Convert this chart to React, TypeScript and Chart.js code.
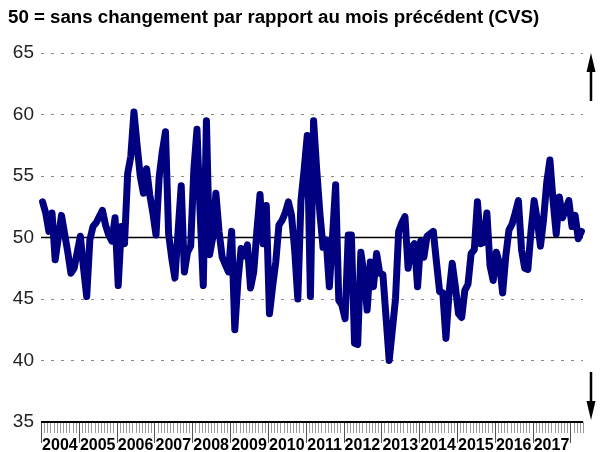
import React, { useEffect, useRef } from "react";
import { Chart, registerables } from "chart.js";

Chart.register(...registerables);

const TITLE = "50 = sans changement par rapport au mois précédent (CVS)";
const FIRST_YEAR = 2004;
const yearLabels = ["2004", "2005", "2006", "2007", "2008", "2009", "2010", "2011", "2012", "2013", "2014", "2015", "2016", "2017"];
const yMin = 35;
const yMax = 65;
const yStep = 5;
const refLevel = 50;

// monthly index values, Jan 2004 -> Apr 2018
const values = [
  52.9, 52.0, 50.5, 52.0, 48.2, 50.0, 51.8, 50.3, 48.8, 47.1, 47.5, 48.8,
  50.1, 47.5, 45.2, 49.8, 50.9, 51.2, 51.7, 52.2, 51.0, 50.2, 49.7, 51.6,
  46.1, 50.9, 49.5, 55.2, 56.6, 60.2, 57.5, 55.0, 53.6, 55.6, 53.5, 52.0,
  50.2, 54.9, 57.0, 58.6, 50.3, 48.3, 46.7, 50.5, 54.2, 47.2, 48.8, 49.3,
  55.5, 58.8, 52.0, 46.1, 59.5, 48.6, 50.0, 53.6, 50.5, 48.4, 47.8, 47.2,
  50.5, 42.5, 46.5, 49.1, 48.5, 49.4, 45.9, 47.2, 50.5, 53.5, 49.5, 52.6,
  43.8, 46.0, 48.0, 51.0, 51.4, 52.0, 52.9, 51.8, 49.0, 45.0, 53.0, 55.5,
  58.3, 45.2, 59.5, 55.5, 52.0, 49.2, 49.8, 46.0, 50.0, 54.3, 44.9, 44.5,
  43.4, 50.2, 50.2, 41.4, 41.3, 48.8, 47.0, 44.1, 48.0, 46.0, 48.7, 47.1,
  47.0, 43.5, 40.0, 42.5, 45.0, 50.5, 51.2, 51.7, 47.5, 49.2, 49.5, 46.0,
  49.7, 48.4, 50.1, 50.3, 50.5, 48.0, 45.6, 45.5, 41.8, 45.5, 47.9, 46.0,
  43.8, 43.5, 45.7, 46.2, 48.7, 49.0, 52.9, 49.5, 49.6, 52.0, 47.7, 46.5,
  48.8, 47.9, 45.5, 48.5, 50.6, 51.1, 52.0, 53.0, 49.0, 47.5, 47.4, 50.5,
  53.0, 51.4, 49.3, 51.5, 54.5, 56.3, 53.0, 50.3, 53.3, 51.6, 52.3, 53.0,
  50.9, 51.8, 49.9, 50.5,
];

const months = values.map(
  (_, i) => `${FIRST_YEAR + Math.floor(i / 12)}-${String((i % 12) + 1).padStart(2, "0")}`
);

const FONT = "Arial, 'Liberation Sans', sans-serif";

const decorPlugin = {
  id: "decor",
  beforeDatasetsDraw(chart: any) {
    const { ctx, chartArea } = chart;
    const y = chart.scales.y.getPixelForValue(refLevel);
    ctx.save();
    ctx.strokeStyle = "#000";
    ctx.lineWidth = 1.5;
    ctx.beginPath();
    ctx.moveTo(chartArea.left, y);
    ctx.lineTo(chartArea.right, y);
    ctx.stroke();
    ctx.restore();
  },
  afterDraw(chart: any) {
    const { ctx, chartArea } = chart;
    const xs = chart.scales.x;
    const n = values.length;
    const step = xs.getPixelForValue(1) - xs.getPixelForValue(0);
    const boundary = (k: number) => xs.getPixelForValue(0) + (k - 0.5) * step;
    const y0 = chartArea.bottom;
    ctx.save();
    ctx.lineWidth = 1;
    for (let k = 0; k <= n; k++) {
      const x = Math.round(boundary(k)) + 0.5;
      const major = k % 12 === 0;
      ctx.strokeStyle = major ? "#555" : "#9a9a9a";
      ctx.beginPath();
      ctx.moveTo(x, y0);
      ctx.lineTo(x, y0 + (major ? 21 : 11));
      ctx.stroke();
    }
    ctx.strokeStyle = "#000";
    ctx.lineWidth = 2;
    ctx.beginPath();
    ctx.moveTo(boundary(0), y0);
    ctx.lineTo(boundary(n), y0);
    ctx.stroke();
    ctx.fillStyle = "#000";
    ctx.font = `bold 16px ${FONT}`;
    ctx.textAlign = "center";
    ctx.textBaseline = "alphabetic";
    yearLabels.forEach((lab, j) => {
      const a = boundary(j * 12);
      const b = boundary(Math.min((j + 1) * 12, n));
      ctx.fillText(lab, (a + b) / 2, y0 + 28);
    });
    const ax = chartArea.right + 8;
    ctx.fillStyle = "#000";
    ctx.strokeStyle = "#000";
    ctx.lineWidth = 2.5;
    const top = chartArea.top;
    ctx.beginPath();
    ctx.moveTo(ax, top + 48);
    ctx.lineTo(ax, top + 16);
    ctx.stroke();
    ctx.beginPath();
    ctx.moveTo(ax, top);
    ctx.lineTo(ax - 4.5, top + 19);
    ctx.lineTo(ax + 4.5, top + 19);
    ctx.closePath();
    ctx.fill();
    const bot = chartArea.bottom - 2;
    ctx.beginPath();
    ctx.moveTo(ax, bot - 48);
    ctx.lineTo(ax, bot - 16);
    ctx.stroke();
    ctx.beginPath();
    ctx.moveTo(ax, bot);
    ctx.lineTo(ax - 4.5, bot - 19);
    ctx.lineTo(ax + 4.5, bot - 19);
    ctx.closePath();
    ctx.fill();
    ctx.restore();
  },
};

export default function App() {
  const ref = useRef<HTMLCanvasElement | null>(null);
  useEffect(() => {
    if (!ref.current) return;
    const chart = new Chart(ref.current, {
      type: "line",
      data: {
        labels: months,
        datasets: [
          {
            data: values,
            borderColor: "#000080",
            backgroundColor: "#000080",
            borderWidth: 7,
            pointRadius: 0,
            tension: 0,
            borderCapStyle: "round",
            borderJoinStyle: "round",
          },
        ],
      },
      options: {
        animation: false,
        responsive: true,
        maintainAspectRatio: false,
        layout: { padding: { left: 8, right: 18, top: 0, bottom: 30 } },
        plugins: {
          legend: { display: false },
          tooltip: { enabled: false },
          title: {
            display: true,
            text: TITLE,
            align: "start",
            color: "#000",
            font: { family: FONT, size: 18.7, weight: "bold" },
            padding: { top: 6.8, bottom: 23.8 },
          },
        },
        scales: {
          x: {
            type: "category",
            offset: true,
            display: false,
          },
          y: {
            min: yMin,
            max: yMax,
            afterFit(scale: any) {
              scale.width = 33;
            },
            ticks: {
              stepSize: yStep,
              padding: 7,
              color: "#222",
              font: { family: FONT, size: 19 },
            },
            grid: {
              color: "#8a8a8a",
              lineWidth: 1,
              drawTicks: false,
            },
            border: { display: false, dash: [3, 7] },
          },
        },
      },
      plugins: [decorPlugin],
    });
    return () => chart.destroy();
  }, []);
  return (
    <div style={{ position: "fixed", left: 0, top: 0, width: 601, height: 452, background: "#fff" }}>
      <canvas ref={ref} />
    </div>
  );
}
